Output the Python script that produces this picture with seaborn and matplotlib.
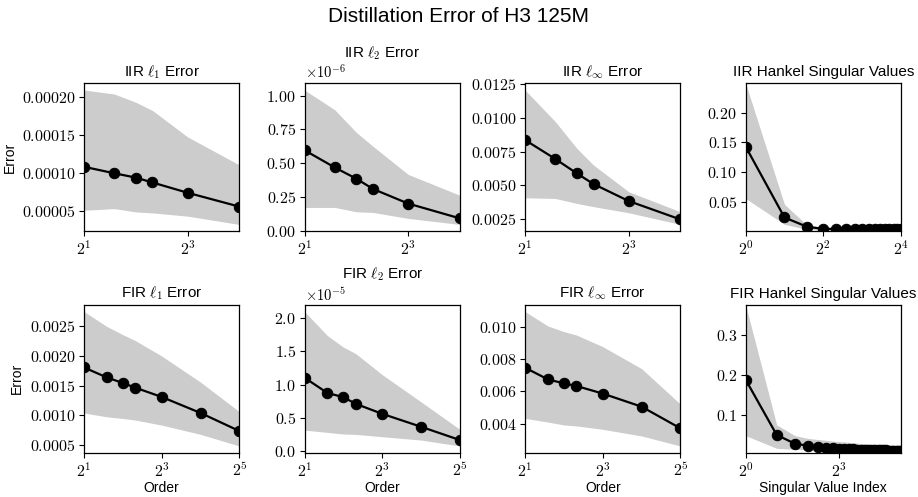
import numpy as np
import matplotlib
matplotlib.use("Agg")
import matplotlib.pyplot as plt
from matplotlib.ticker import MultipleLocator
import seaborn as sns

# orders / indices on the x axis
iir_orders = [2, 3, 4, 5, 8, 16]
fir_orders = [2, 3, 4, 5, 8, 16, 32]
iir_sv_index = list(range(1, 17))
fir_sv_index = list(range(1, 33))

# IIR errors: mean line, band upper and lower
iir_l1_mean = [1.080e-4, 0.994e-4, 0.937e-4, 0.872e-4, 0.736e-4, 0.552e-4]
iir_l1_upper = [2.097e-4, 2.044e-4, 1.935e-4, 1.826e-4, 1.476e-4, 1.104e-4]
iir_l1_lower = [0.504e-4, 0.526e-4, 0.482e-4, 0.469e-4, 0.426e-4, 0.316e-4]

iir_l2_mean = [0.596e-6, 0.468e-6, 0.385e-6, 0.309e-6, 0.201e-6, 0.091e-6]
iir_l2_upper = [1.042e-6, 0.895e-6, 0.728e-6, 0.625e-6, 0.417e-6, 0.262e-6]
iir_l2_lower = [0.172e-6, 0.172e-6, 0.140e-6, 0.135e-6, 0.091e-6, 0.046e-6]

iir_linf_mean = [0.00837, 0.00696, 0.00589, 0.00510, 0.00384, 0.00247]
iir_linf_upper = [0.01208, 0.00973, 0.00775, 0.00651, 0.00453, 0.00304]
iir_linf_lower = [0.00408, 0.00403, 0.00366, 0.00342, 0.00297, 0.00210]

iir_sv_mean = [0.143, 0.024, 0.0083, 0.0050, 0.0047, 0.0046, 0.0045, 0.0045,
               0.0044, 0.0044, 0.0043, 0.0043, 0.0042, 0.0042, 0.0041, 0.0041]
iir_sv_upper = [0.249, 0.046, 0.011, 0.0075, 0.0068, 0.0066, 0.0065, 0.0064,
                0.0063, 0.0062, 0.0062, 0.0061, 0.0061, 0.0060, 0.0060, 0.0060]
iir_sv_lower = [0.056, 0.0125, 0.0040, 0.0028, 0.0025, 0.0023, 0.0021, 0.0020,
                0.0018, 0.0017, 0.0016, 0.0015, 0.0014, 0.0013, 0.0011, 0.0010]

# FIR errors
fir_l1_mean = [1.807e-3, 1.640e-3, 1.545e-3, 1.466e-3, 1.310e-3, 1.040e-3, 0.735e-3]
fir_l1_upper = [2.750e-3, 2.500e-3, 2.360e-3, 2.260e-3, 2.000e-3, 1.560e-3, 1.060e-3]
fir_l1_lower = [1.040e-3, 0.975e-3, 0.947e-3, 0.920e-3, 0.835e-3, 0.679e-3, 0.483e-3]

fir_l2_mean = [1.104e-5, 0.876e-5, 0.811e-5, 0.711e-5, 0.562e-5, 0.368e-5, 0.169e-5]
fir_l2_upper = [2.095e-5, 1.736e-5, 1.562e-5, 1.463e-5, 1.149e-5, 0.741e-5, 0.328e-5]
fir_l2_lower = [0.318e-5, 0.284e-5, 0.259e-5, 0.254e-5, 0.219e-5, 0.169e-5, 0.080e-5]

fir_linf_mean = [7.46e-3, 6.74e-3, 6.49e-3, 6.33e-3, 5.86e-3, 5.05e-3, 3.71e-3]
fir_linf_upper = [10.93e-3, 10.04e-3, 9.69e-3, 9.48e-3, 8.76e-3, 7.40e-3, 5.20e-3]
fir_linf_lower = [4.33e-3, 4.10e-3, 3.92e-3, 3.86e-3, 3.65e-3, 3.24e-3, 2.62e-3]

fir_sv_mean = [0.1895, 0.0515, 0.0297, 0.0247, 0.0213, 0.0195, 0.0180, 0.0172,
               0.0165, 0.0160, 0.0155, 0.0151, 0.0148, 0.0145, 0.0142, 0.0140,
               0.0138, 0.0136, 0.0134, 0.0132, 0.0130, 0.0129, 0.0127, 0.0126,
               0.0124, 0.0123, 0.0122, 0.0120, 0.0119, 0.0118, 0.0117, 0.0116]
fir_sv_upper = [0.376, 0.0766, 0.0498, 0.0430, 0.0400, 0.0380, 0.0360, 0.0350,
                0.0340, 0.0330, 0.0320, 0.0310, 0.0300, 0.0295, 0.0290, 0.0285,
                0.0280, 0.0275, 0.0270, 0.0265, 0.0260, 0.0255, 0.0250, 0.0245,
                0.0240, 0.0235, 0.0230, 0.0228, 0.0225, 0.0222, 0.0220, 0.0218]
fir_sv_lower = [0.0498, 0.0180, 0.0155, 0.0145, 0.0138, 0.0132, 0.0128, 0.0124,
                0.0120, 0.0117, 0.0114, 0.0112, 0.0110, 0.0108, 0.0106, 0.0104,
                0.0102, 0.0100, 0.0098, 0.0096, 0.0094, 0.0092, 0.0090, 0.0088,
                0.0086, 0.0084, 0.0082, 0.0080, 0.0078, 0.0076, 0.0073, 0.0071]

sns.set_style("ticks")
plt.rcParams['font.family'] = ['Liberation Sans', 'DejaVu Sans']
plt.rcParams['mathtext.fontset'] = 'cm'
plt.rcParams['axes.formatter.use_mathtext'] = True
plt.rcParams['axes.unicode_minus'] = False
plt.rcParams['text.color'] = 'black'
plt.rcParams['axes.labelcolor'] = 'black'

BAND = '#cccccc'


def draw_panel(ax, x, mean, lower, upper, title, xticks, ystep,
               hankel=False, pad=5):
    ax.fill_between(x, lower, upper, color=BAND, linewidth=0)
    sns.lineplot(x=x, y=mean, ax=ax, color='black', marker='o', markersize=7.5,
                 markeredgecolor='black', linewidth=1.6)
    ax.set_xscale('log', base=2)
    ax.set_xlim(min(x), max(x))
    if hankel:
        ax.set_ylim(min(lower), max(upper))
    ax.set_xticks(xticks)
    ax.minorticks_off()
    ax.yaxis.set_major_locator(MultipleLocator(ystep))
    ax.set_title(title, fontsize=11, y=1.0, pad=pad, color='black')
    ax.tick_params(labelsize=11.5, labelfontfamily='cmr10', direction='out',
                   length=3.5, width=0.8, colors='black', pad=2.5)
    ax.yaxis.get_offset_text().set_fontsize(10.5)
    ax.yaxis.get_offset_text().set_family('cmr10')
    for s in ax.spines.values():
        s.set_color('black')
        s.set_linewidth(0.9)


fig, axes = plt.subplots(2, 4, figsize=(9.18, 4.97), dpi=100)
fig.subplots_adjust(left=0.0915, right=0.9815, top=0.8324, bottom=0.0891,
                    wspace=0.419, hspace=0.498)

draw_panel(axes[0, 0], iir_orders, iir_l1_mean, iir_l1_lower, iir_l1_upper,
           r'IIR $\ell_1$ Error', [2, 8], 0.00005)
draw_panel(axes[0, 1], iir_orders, iir_l2_mean, iir_l2_lower, iir_l2_upper,
           r'IIR $\ell_2$ Error', [2, 8], 0.25e-6, pad=19)
draw_panel(axes[0, 2], iir_orders, iir_linf_mean, iir_linf_lower, iir_linf_upper,
           r'IIR $\ell_\infty$ Error', [2, 8], 0.0025)
draw_panel(axes[0, 3], iir_sv_index, iir_sv_mean, iir_sv_lower, iir_sv_upper,
           'IIR Hankel Singular Values', [1, 4, 16], 0.05, hankel=True)

draw_panel(axes[1, 0], fir_orders, fir_l1_mean, fir_l1_lower, fir_l1_upper,
           r'FIR $\ell_1$ Error', [2, 8, 32], 0.0005)
draw_panel(axes[1, 1], fir_orders, fir_l2_mean, fir_l2_lower, fir_l2_upper,
           r'FIR $\ell_2$ Error', [2, 8, 32], 0.5e-5, pad=19)
draw_panel(axes[1, 2], fir_orders, fir_linf_mean, fir_linf_lower, fir_linf_upper,
           r'FIR $\ell_\infty$ Error', [2, 8, 32], 0.002)
draw_panel(axes[1, 3], fir_sv_index, fir_sv_mean, fir_sv_lower, fir_sv_upper,
           'FIR Hankel Singular Values', [1, 8], 0.1, hankel=True)

axes[0, 0].set_ylabel('Error', fontsize=10, labelpad=4)
axes[1, 0].set_ylabel('Error', fontsize=10, labelpad=4)
for ax in axes[1, :3]:
    ax.set_xlabel('Order', fontsize=10, labelpad=1)
axes[1, 3].set_xlabel('Singular Value Index', fontsize=10, labelpad=1)

fig.suptitle('Distillation Error of H3 125M', fontsize=15, y=0.985,
             color='black')

fig.savefig('out.png', dpi=100)
